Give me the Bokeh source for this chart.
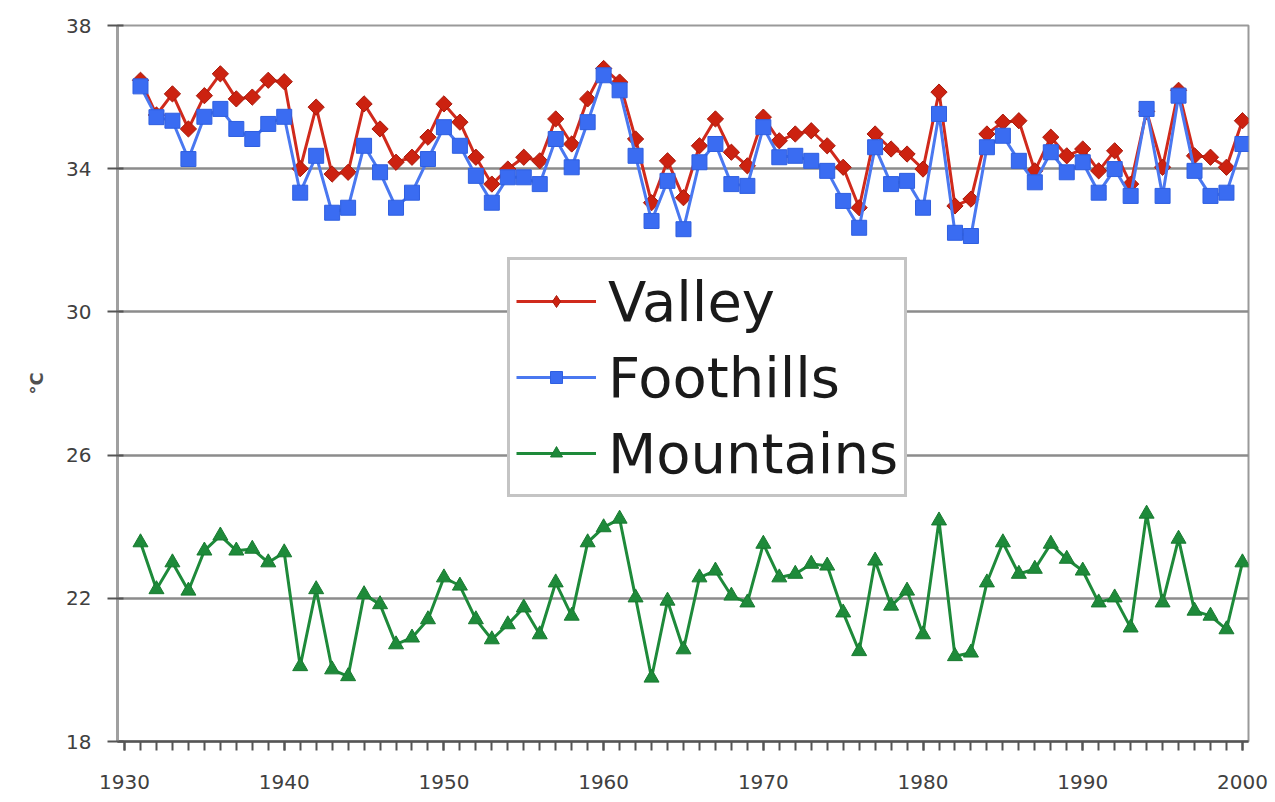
from bokeh.plotting import figure
from bokeh.models import (ColumnDataSource, Legend, LegendItem, Range1d,
                          FixedTicker, SingleIntervalTicker)
from bokeh.embed import file_html
from bokeh.resources import INLINE

years = list(range(1931, 2001))

valley = [36.47, 35.50, 36.09, 35.11, 36.04, 36.65, 35.95, 36.00, 36.47, 36.43,
          34.00, 35.72, 33.85, 33.90, 35.81, 35.11, 34.18, 34.32, 34.88, 35.81,
          35.30, 34.32, 33.57, 33.99, 34.32, 34.22, 35.39, 34.69, 35.95, 36.80,
          36.42, 34.83, 33.05, 34.22, 33.19, 34.64, 35.39, 34.46, 34.08, 35.44,
          34.78, 34.97, 35.06, 34.64, 34.04, 32.91, 34.97, 34.55, 34.41, 33.99,
          36.14, 32.96, 33.15, 34.97, 35.30, 35.34, 33.94, 34.88, 34.36, 34.55,
          33.94, 34.50, 33.57, 35.60, 34.04, 36.19, 34.36, 34.32, 34.04, 35.34]

foothills = [36.30, 35.44, 35.34, 34.27, 35.45, 35.67, 35.11, 34.83, 35.25, 35.45,
             33.33, 34.36, 32.77, 32.91, 34.64, 33.90, 32.91, 33.33, 34.27, 35.16,
             34.64, 33.80, 33.05, 33.76, 33.76, 33.57, 34.83, 34.04, 35.30, 36.61,
             36.19, 34.36, 32.54, 33.66, 32.31, 34.18, 34.69, 33.57, 33.52, 35.16,
             34.32, 34.36, 34.22, 33.94, 33.10, 32.35, 34.60, 33.57, 33.66, 32.91,
             35.53, 32.21, 32.12, 34.60, 34.92, 34.22, 33.62, 34.46, 33.90, 34.18,
             33.33, 33.99, 33.24, 35.67, 33.24, 36.04, 33.94, 33.24, 33.33, 34.69]

mountains = [23.56, 22.25, 23.00, 22.21, 23.33, 23.75, 23.33, 23.38, 23.00, 23.28,
             20.10, 22.25, 20.01, 19.82, 22.11, 21.83, 20.71, 20.90, 21.41, 22.58,
             22.35, 21.41, 20.85, 21.27, 21.74, 20.99, 22.44, 21.51, 23.56, 23.98,
             24.22, 22.02, 19.78, 21.93, 20.57, 22.58, 22.77, 22.07, 21.88, 23.52,
             22.58, 22.68, 22.96, 22.91, 21.60, 20.52, 23.05, 21.79, 22.21, 20.99,
             24.17, 20.38, 20.48, 22.44, 23.56, 22.68, 22.82, 23.52, 23.10, 22.77,
             21.88, 22.02, 21.18, 24.36, 21.88, 23.66, 21.65, 21.51, 21.13, 23.00]

series_names = ["Valley", "Foothills", "Mountains"]
y_ticks = [18, 22, 26, 30, 34, 38]
y_label = "°C"

src = ColumnDataSource(dict(year=years, valley=valley, foothills=foothills,
                            mountains=mountains))

p = figure(width=1270, height=800, output_backend="svg", toolbar_location=None,
           x_range=Range1d(1929.56, 2000.38), y_range=Range1d(18, 38),
           min_border_left=117, min_border_right=22, min_border_top=25,
           min_border_bottom=56, frame_width=1131, frame_height=716)

p.background_fill_color = "white"
p.border_fill_color = "white"
p.outline_line_color = "#9a9a9a"
p.outline_line_width = 2

# grid
p.xgrid.visible = False
p.ygrid.ticker = FixedTicker(ticks=y_ticks)
p.ygrid.grid_line_color = "#8c8c8c"
p.ygrid.grid_line_width = 2.5

# axes
font = "DejaVu Sans"
p.yaxis.ticker = FixedTicker(ticks=y_ticks)
p.yaxis.axis_line_color = "#a0a0a0"
p.yaxis.axis_line_width = 3
p.yaxis.major_tick_line_color = "#555555"
p.yaxis.major_tick_line_width = 2
p.yaxis.major_tick_out = 10
p.yaxis.major_tick_in = 6
p.yaxis.minor_tick_line_color = None
p.yaxis.major_label_standoff = 16
p.yaxis.axis_label = y_label
p.yaxis.axis_label_text_font = font
p.yaxis.axis_label_text_font_style = "bold"
p.yaxis.axis_label_text_font_size = "18px"
p.yaxis.axis_label_text_color = "#505050"
p.yaxis.axis_label_standoff = 16

p.xaxis.ticker = SingleIntervalTicker(interval=10, num_minor_ticks=10)
p.xaxis.axis_line_color = "#555555"
p.xaxis.axis_line_width = 2.5
p.xaxis.major_tick_line_color = "#555555"
p.xaxis.major_tick_line_width = 2
p.xaxis.major_tick_out = 9
p.xaxis.major_tick_in = 0
p.xaxis.minor_tick_line_color = "#555555"
p.xaxis.minor_tick_line_width = 2
p.xaxis.minor_tick_out = 9
p.xaxis.minor_tick_in = 0
p.xaxis.major_label_standoff = 24

for ax in (p.xaxis[0], p.yaxis[0]):
    ax.major_label_text_font = font
    ax.major_label_text_font_size = "20px"
    ax.major_label_text_color = "#404040"

colors = {
    "Valley": ("#d02a1c", "#cc2210", "#a81a0c"),
    "Foothills": ("#4a78f0", "#3a6cf2", "#2f5fe0"),
    "Mountains": ("#1e8a3a", "#1e8a3a", "#187a30"),
}
markers = {"Valley": "square", "Foothills": "square", "Mountains": "triangle"}
legend_markers = {"Valley": "diamond", "Foothills": "square", "Mountains": "triangle"}
angles = {"Valley": 0.7854, "Foothills": 0.0, "Mountains": 0.0}
sizes = {"Valley": 11.5, "Foothills": 15, "Mountains": 15}
cols = {"Valley": "valley", "Foothills": "foothills", "Mountains": "mountains"}

# key-only marker renderers (their single point lies outside the visible range)
key_src = ColumnDataSource(dict(x=[1800.0], y=[0.0]))

items = []
for name in series_names:
    c = colors[name]
    l = p.line("year", cols[name], source=src, line_color=c[0], line_width=3)
    p.scatter("year", cols[name], source=src, marker=markers[name],
              angle=angles[name], size=sizes[name], fill_color=c[1],
              line_color=c[2], line_width=1)
    k = p.scatter("x", "y", source=key_src, marker=legend_markers[name],
                  size=12, fill_color=c[1], line_color=c[2], line_width=1)
    items.append(LegendItem(label=name, renderers=[l, k]))

legend = Legend(items=items, location=(390, 244))
legend.label_text_font = font
legend.label_text_font_size = "56px"
legend.label_text_color = "#1a1a1a"
legend.glyph_width = 80
legend.glyph_height = 30
legend.label_height = 70
legend.label_standoff = 12
legend.spacing = 6
legend.padding = 6
legend.margin = 0
legend.border_line_color = "#8a8a8a"
legend.border_line_width = 3
legend.background_fill_color = "white"
legend.background_fill_alpha = 1
p.add_layout(legend)

open("out.html", "w").write(file_html(p, INLINE))
